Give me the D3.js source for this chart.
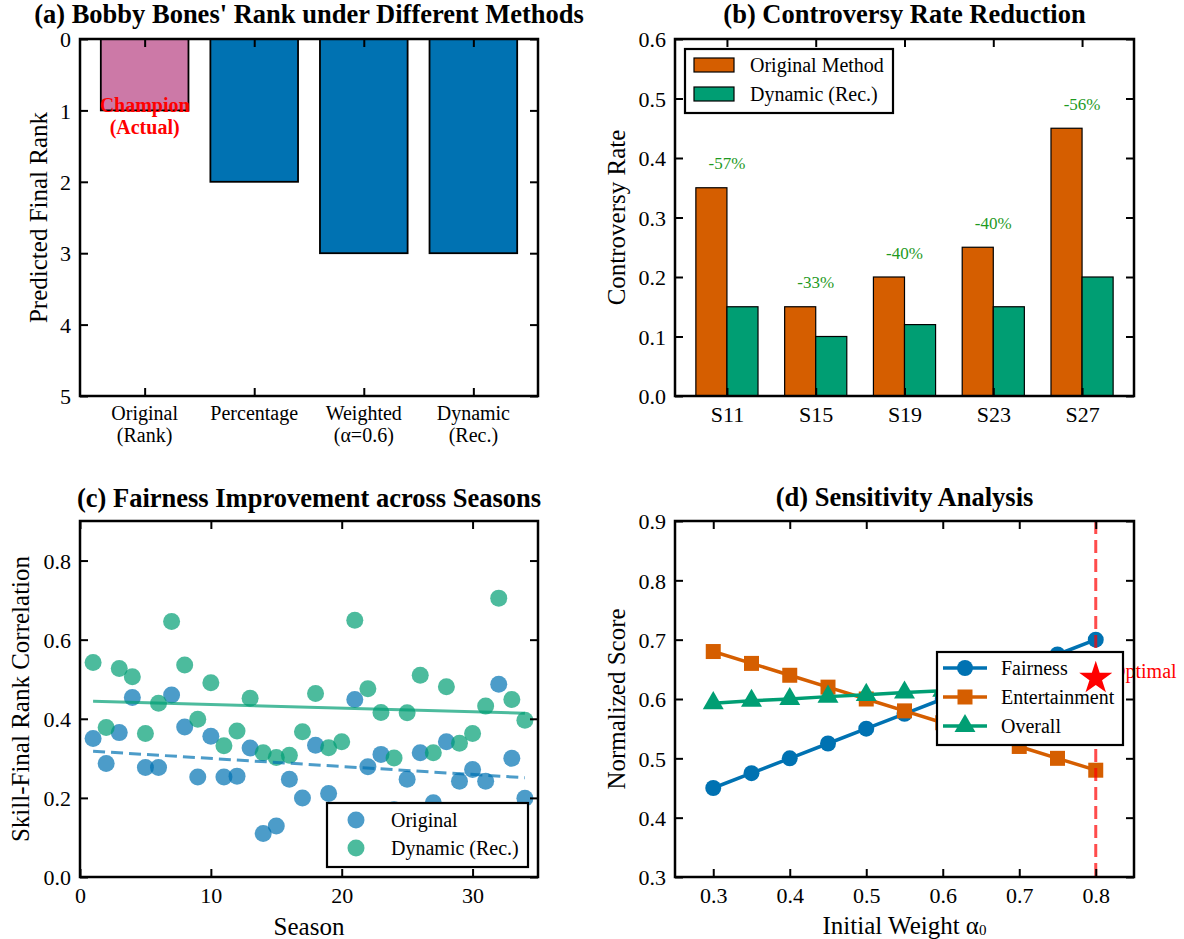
<!DOCTYPE html>
<html>
<head>
<meta charset="utf-8">
<script src="https://cdn.jsdelivr.net/npm/d3@7"></script>
<style>
  body { margin: 0; background: #fff; }
  svg text { font-family: "Liberation Serif", "Times New Roman", serif; fill: #000; }
</style>
</head>
<body>
<svg id="fig" width="1184" height="939"></svg>
<script>
// ---------- (a) Bobby Bones' predicted rank ----------
const methods = [["Original", "(Rank)"], ["Percentage"], ["Weighted", "(α=0.6)"], ["Dynamic", "(Rec.)"]];
const predictedRank = [1, 2, 3, 3];
const rankTicks = [0, 1, 2, 3, 4, 5];

// ---------- (b) controversy rate ----------
const seasonLabels = ["S11", "S15", "S19", "S23", "S27"];
const rateOriginal = [0.35, 0.15, 0.20, 0.25, 0.45];
const rateDynamic = [0.15, 0.10, 0.12, 0.15, 0.20];
const reductionText = ["-57%", "-33%", "-40%", "-40%", "-56%"];
const rateTicks = [0.0, 0.1, 0.2, 0.3, 0.4, 0.5, 0.6];

// ---------- (c) skill / final-rank correlation per season ----------
const seasons = [1, 2, 3, 4, 5, 6, 7, 8, 9, 10, 11, 12, 13, 14, 15, 16, 17,
                 18, 19, 20, 21, 22, 23, 24, 25, 26, 27, 28, 29, 30, 31, 32, 33, 34];
const corrOriginal = [0.350, 0.287, 0.365, 0.454, 0.277, 0.277, 0.460, 0.379, 0.253, 0.356,
                      0.253, 0.255, 0.326, 0.110, 0.129, 0.247, 0.200, 0.333, 0.211, 0.160,
                      0.449, 0.279, 0.310, 0.170, 0.247, 0.314, 0.188, 0.342, 0.242, 0.272,
                      0.242, 0.487, 0.300, 0.199];
const corrDynamic = [0.542, 0.378, 0.527, 0.506, 0.363, 0.439, 0.646, 0.536, 0.399, 0.491,
                     0.332, 0.369, 0.452, 0.314, 0.302, 0.308, 0.367, 0.464, 0.327, 0.342,
                     0.649, 0.476, 0.416, 0.301, 0.415, 0.510, 0.314, 0.481, 0.338, 0.363,
                     0.432, 0.705, 0.449, 0.396];
const trendSeasons = [1, 34];
const trendOriginal = [0.318, 0.251];
const trendDynamic = [0.444, 0.414];
const seasonTicks = [0, 10, 20, 30];
const corrTicks = [0.0, 0.2, 0.4, 0.6, 0.8];

// ---------- (d) sensitivity to the initial weight ----------
const alphaValues = [0.30, 0.35, 0.40, 0.45, 0.50, 0.55, 0.60, 0.65, 0.70, 0.75, 0.80];
const fairness = [0.450, 0.475, 0.500, 0.525, 0.550, 0.575, 0.600, 0.625, 0.650, 0.675, 0.700];
const entertainment = [0.68, 0.66, 0.64, 0.62, 0.60, 0.58, 0.56, 0.54, 0.52, 0.50, 0.48];
const overall = [0.593, 0.597, 0.600, 0.604, 0.607, 0.611, 0.614, 0.618, 0.621, 0.625, 0.628];
const optimalAlpha = [0.80];
const optimalScore = [0.635];
const alphaTicks = [0.3, 0.4, 0.5, 0.6, 0.7, 0.8];
const scoreTicks = [0.3, 0.4, 0.5, 0.6, 0.7, 0.8, 0.9];

// ---------- palette & shared styling ----------
const C = { blue: "#0072B2", orange: "#D55E00", green: "#009E73", pink: "#CC79A7", red: "#FF0000" };
const TICK_FONT = 22, LABEL_FONT = 25, TITLE_FONT = 26.5, LEGEND_FONT = 20;
const TICK_LEN = 8;

const svg = d3.select("#fig");

function panel(x, y) {
  return svg.append("g").attr("transform", `translate(${x},${y})`);
}

// inward ticks on all four sides, frame drawn separately
function axes(g, xs, ys, w, h, xTicks, yTicks, xFmt, yFmt) {
  const style = sel => {
    sel.select(".domain").remove();
    sel.attr("font-family", null).attr("font-size", TICK_FONT);
    sel.selectAll(".tick line").attr("stroke", "#000").attr("stroke-width", 2);
    sel.selectAll(".tick text").attr("fill", "#000");
  };
  g.append("g").attr("transform", `translate(0,${h})`)
    .call(d3.axisBottom(xs).tickValues(xTicks).tickSize(-TICK_LEN).tickPadding(10).tickFormat(xFmt))
    .call(style);
  g.append("g")
    .call(d3.axisTop(xs).tickValues(xTicks).tickSize(-TICK_LEN).tickFormat(""))
    .call(style);
  g.append("g")
    .call(d3.axisLeft(ys).tickValues(yTicks).tickSize(-TICK_LEN).tickPadding(9).tickFormat(yFmt))
    .call(style)
    .selectAll(".tick text").attr("dy", "0.35em");
  g.append("g").attr("transform", `translate(${w},0)`)
    .call(d3.axisRight(ys).tickValues(yTicks).tickSize(-TICK_LEN).tickFormat(""))
    .call(style);
}

function frame(g, w, h) {
  g.append("rect").attr("width", w).attr("height", h)
    .attr("fill", "none").attr("stroke", "#000").attr("stroke-width", 2.5);
}

function title(g, w, text, dy) {
  g.append("text").attr("x", w / 2).attr("y", dy)
    .attr("text-anchor", "middle").attr("dominant-baseline", "central")
    .attr("font-size", TITLE_FONT).attr("font-weight", "bold").text(text);
}

function yLabel(g, x, h, text) {
  g.append("text").attr("transform", `translate(${x},${h / 2}) rotate(-90)`)
    .attr("text-anchor", "middle").attr("dominant-baseline", "central")
    .attr("font-size", LABEL_FONT).text(text);
}

function xLabel(g, w, y, text) {
  return g.append("text").attr("x", w / 2).attr("y", y)
    .attr("text-anchor", "middle").attr("dominant-baseline", "central")
    .attr("font-size", LABEL_FONT).text(text);
}

// =============== (a) ===============
{
  const W = 458, H = 357;
  const g = panel(80, 39);
  const x = d3.scaleLinear().domain([-0.59, 3.59]).range([0, W]);
  const y = d3.scaleLinear().domain([0, 5]).range([0, H]);

  g.selectAll("rect.bar").data(predictedRank).join("rect")
    .attr("class", "bar")
    .attr("x", (d, i) => x(i - 0.4))
    .attr("width", x(0.8) - x(0))
    .attr("y", y(0))
    .attr("height", d => y(d) - y(0))
    .attr("fill", (d, i) => i === 0 ? C.pink : C.blue)
    .attr("stroke", "#000").attr("stroke-width", 1.8);

  axes(g, x, y, W, H, [0, 1, 2, 3], rankTicks, () => "", d3.format("d"));

  // two-line category labels
  methods.forEach((lines, i) => {
    const t = g.append("text").attr("x", x(i)).attr("y", H + 17)
      .attr("text-anchor", "middle").attr("dominant-baseline", "central")
      .attr("font-size", 20);
    lines.forEach((s, k) => t.append("tspan").attr("x", x(i)).attr("dy", k === 0 ? 0 : 22).text(s));
  });

  // actual result annotation on the first bar
  const ann = g.append("text").attr("x", x(0)).attr("y", y(predictedRank[0] + 0.08) - 11)
    .attr("text-anchor", "middle").attr("dominant-baseline", "central")
    .attr("font-size", 20).attr("font-weight", "bold").style("fill", C.red);
  ann.append("tspan").attr("x", x(0)).attr("dy", 0).text("Champion");
  ann.append("tspan").attr("x", x(0)).attr("dy", 22).text("(Actual)");

  frame(g, W, H);
  title(g, W, "(a) Bobby Bones' Rank under Different Methods", -25);
  yLabel(g, -42, H, "Predicted Final Rank");
}

// =============== (b) ===============
{
  const W = 459, H = 357;
  const g = panel(675, 39);
  const x = d3.scaleLinear().domain([-0.585, 4.585]).range([0, W]);
  const y = d3.scaleLinear().domain([0, 0.6]).range([H, 0]);
  const bw = 0.35;

  g.selectAll("rect.orig").data(rateOriginal).join("rect")
    .attr("class", "orig")
    .attr("x", (d, i) => x(i - bw)).attr("width", x(bw) - x(0))
    .attr("y", d => y(d)).attr("height", d => y(0) - y(d))
    .attr("fill", C.orange).attr("stroke", "#000").attr("stroke-width", 1.2);
  g.selectAll("rect.dyn").data(rateDynamic).join("rect")
    .attr("class", "dyn")
    .attr("x", (d, i) => x(i)).attr("width", x(bw) - x(0))
    .attr("y", d => y(d)).attr("height", d => y(0) - y(d))
    .attr("fill", C.green).attr("stroke", "#000").attr("stroke-width", 1.2);

  g.selectAll("text.red").data(reductionText).join("text")
    .attr("class", "red")
    .attr("x", (d, i) => x(i)).attr("y", (d, i) => y(rateOriginal[i] + 0.04))
    .attr("text-anchor", "middle").attr("dominant-baseline", "central")
    .attr("font-size", 17).style("fill", "#1f9a1f").text(d => d);

  axes(g, x, y, W, H, [0, 1, 2, 3, 4], rateTicks, i => seasonLabels[i], d3.format(".1f"));

  // legend
  const L = g.append("g");
  L.append("rect").attr("x", 10).attr("y", 10).attr("width", 208).attr("height", 64)
    .attr("fill", "#fff").attr("stroke", "#000").attr("stroke-width", 2.2);
  [["Original Method", C.orange], ["Dynamic (Rec.)", C.green]].forEach(([name, col], k) => {
    const cy = 26 + k * 29;
    L.append("rect").attr("x", 19).attr("y", cy - 7).attr("width", 40).attr("height", 14)
      .attr("fill", col).attr("stroke", "#000").attr("stroke-width", 1.2);
    L.append("text").attr("x", 75).attr("y", cy).attr("dominant-baseline", "central")
      .attr("font-size", LEGEND_FONT).text(name);
  });

  frame(g, W, H);
  title(g, W, "(b) Controversy Rate Reduction", -25);
  yLabel(g, -59, H, "Controversy Rate");
}

// =============== (c) ===============
{
  const W = 458, H = 356;
  const g = panel(80, 521);
  const x = d3.scaleLinear().domain([0, 35]).range([0, W]);
  const y = d3.scaleLinear().domain([0, 0.9]).range([H, 0]);

  g.selectAll("circle.orig").data(corrOriginal).join("circle")
    .attr("class", "orig")
    .attr("cx", (d, i) => x(seasons[i])).attr("cy", d => y(d)).attr("r", 8.5)
    .attr("fill", C.blue).attr("fill-opacity", 0.7);
  g.selectAll("circle.dyn").data(corrDynamic).join("circle")
    .attr("class", "dyn")
    .attr("cx", (d, i) => x(seasons[i])).attr("cy", d => y(d)).attr("r", 8.5)
    .attr("fill", C.green).attr("fill-opacity", 0.7);

  const line = d3.line().x((d, i) => x(trendSeasons[i])).y(d => y(d));
  g.append("path").datum(trendOriginal).attr("d", line)
    .attr("fill", "none").attr("stroke", C.blue).attr("stroke-opacity", 0.7)
    .attr("stroke-width", 3).attr("stroke-dasharray", "12,6");
  g.append("path").datum(trendDynamic).attr("d", line)
    .attr("fill", "none").attr("stroke", C.green).attr("stroke-opacity", 0.7)
    .attr("stroke-width", 3);

  axes(g, x, y, W, H, seasonTicks, corrTicks, d3.format("d"), d3.format(".1f"));

  // legend
  const L = g.append("g");
  L.append("rect").attr("x", 247).attr("y", 282).attr("width", 201).attr("height", 64)
    .attr("fill", "#fff").attr("stroke", "#000").attr("stroke-width", 2.2);
  [["Original", C.blue], ["Dynamic (Rec.)", C.green]].forEach(([name, col], k) => {
    const cy = 299 + k * 28;
    L.append("circle").attr("cx", 276).attr("cy", cy).attr("r", 8.5)
      .attr("fill", col).attr("fill-opacity", 0.7);
    L.append("text").attr("x", 311).attr("y", cy).attr("dominant-baseline", "central")
      .attr("font-size", LEGEND_FONT).text(name);
  });

  frame(g, W, H);
  title(g, W, "(c) Fairness Improvement across Seasons", -23);
  yLabel(g, -60, H, "Skill-Final Rank Correlation");
  xLabel(g, W, 405, "Season");
}

// =============== (d) ===============
{
  const W = 459, H = 356;
  const g = panel(675, 521);
  const x = d3.scaleLinear().domain([0.25, 0.85]).range([0, W]);
  const y = d3.scaleLinear().domain([0.3, 0.9]).range([H, 0]);

  const series = [
    { name: "Fairness", values: fairness, color: C.blue, marker: d3.symbolCircle, size: 200 },
    { name: "Entertainment", values: entertainment, color: C.orange, marker: d3.symbolSquare, size: 225 },
    { name: "Overall", values: overall, color: C.green, marker: d3.symbolTriangle, size: 190 }
  ];
  const line = d3.line().x((d, i) => x(alphaValues[i])).y(d => y(d));

  series.forEach(s => {
    g.append("path").datum(s.values).attr("d", line)
      .attr("fill", "none").attr("stroke", s.color).attr("stroke-width", 3.5);
    g.selectAll(null).data(s.values).join("path")
      .attr("transform", (d, i) => `translate(${x(alphaValues[i])},${y(d)})`)
      .attr("d", d3.symbol().type(s.marker).size(s.size)())
      .attr("fill", s.color);
  });

  // chosen weight
  g.append("line")
    .attr("x1", x(optimalAlpha[0])).attr("x2", x(optimalAlpha[0]))
    .attr("y1", 0).attr("y2", H)
    .attr("stroke", C.red).attr("stroke-opacity", 0.7)
    .attr("stroke-width", 3).attr("stroke-dasharray", "13,6");
  g.append("text").attr("x", x(optimalAlpha[0] + 0.02)).attr("y", y(optimalScore[0]))
    .attr("font-size", 20).style("fill", C.red).text("Optimal");

  axes(g, x, y, W, H, alphaTicks, scoreTicks, d3.format(".1f"), d3.format(".1f"));

  // legend
  const L = g.append("g");
  L.append("rect").attr("x", 262).attr("y", 131).attr("width", 186).attr("height", 93)
    .attr("fill", "#fff").attr("stroke", "#000").attr("stroke-width", 2.2);
  series.forEach((s, k) => {
    const cy = 147 + k * 29;
    L.append("line").attr("x1", 268).attr("x2", 312).attr("y1", cy).attr("y2", cy)
      .attr("stroke", s.color).attr("stroke-width", 3.5);
    L.append("path").attr("transform", `translate(290,${cy})`)
      .attr("d", d3.symbol().type(s.marker).size(s.size)())
      .attr("fill", s.color);
    L.append("text").attr("x", 326).attr("y", cy).attr("dominant-baseline", "central")
      .attr("font-size", LEGEND_FONT).text(s.name);
  });

  // optimum marker sits above the legend
  g.append("path")
    .attr("transform", `translate(${x(optimalAlpha[0])},${y(optimalScore[0])})`)
    .attr("d", d3.symbol().type(d3.symbolStar).size(340)())
    .attr("fill", C.red);

  frame(g, W, H);
  title(g, W, "(d) Sensitivity Analysis", -24);
  yLabel(g, -59, H, "Normalized Score");
  const xl = xLabel(g, W, 404, "Initial Weight α");
  xl.append("tspan").attr("font-size", 15).attr("dy", 5).text("0");
}
</script>
</body>
</html>
